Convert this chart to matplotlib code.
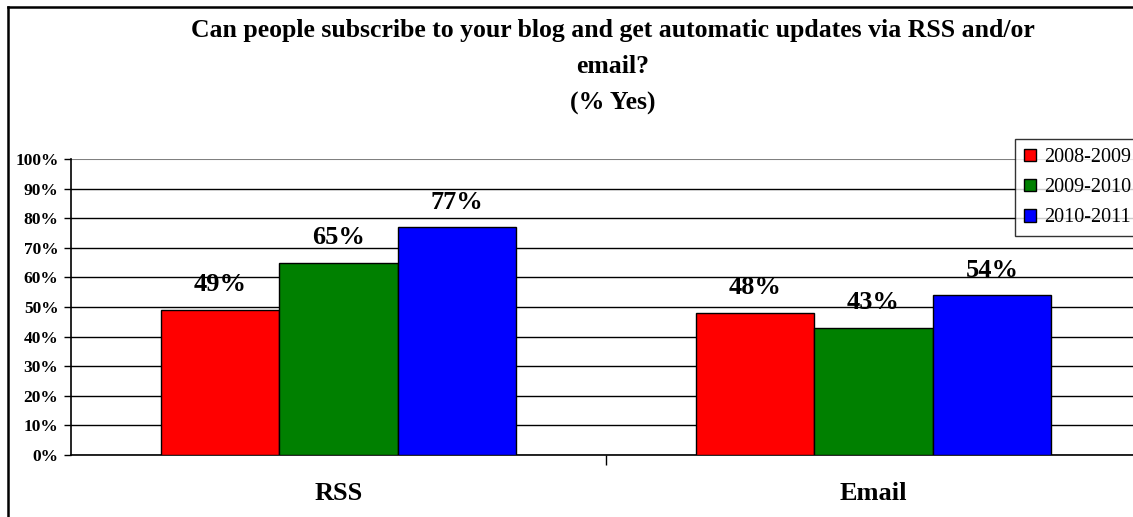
import numpy as np
import matplotlib.pyplot as plt
from matplotlib.lines import Line2D

categories = ['RSS', 'Email']
years = ['2008-2009', '2009-2010', '2010-2011']
values = {
    '2008-2009': [49, 48],
    '2009-2010': [65, 43],
    '2010-2011': [77, 54],
}
colors = ['#FF0000', '#008000', '#0000FF']
yticks = [0, 10, 20, 30, 40, 50, 60, 70, 80, 90, 100]

plt.rcParams['font.family'] = ['Liberation Serif', 'DejaVu Serif']

fig = plt.figure(figsize=(11.33, 5.17), dpi=100)
ax = fig.add_axes([71 / 1133, 62 / 517, 1070 / 1133, 296 / 517])

x = np.arange(len(categories))
width = 0.2215
for i, (year, color) in enumerate(zip(years, colors)):
    offset = (i - 1) * width
    bars = ax.bar(x + offset, values[year], width, color=color,
                  edgecolor='black', linewidth=1.0, label=year, zorder=3)
    for rect, v in zip(bars, values[year]):
        ax.annotate(f'{v}%', (rect.get_x() + rect.get_width() / 2, v),
                    xytext=(0, 18), textcoords='offset points',
                    ha='center', va='center', fontsize=19, fontweight='bold')

ax.set_xlim(-0.5, 1.5)
ax.set_ylim(0, 100)
ax.set_yticks(yticks)
ax.set_yticklabels([f'{t}%' for t in yticks], fontsize=12.5, fontweight='bold')
ax.tick_params(axis='y', length=5, width=1, pad=4, direction='out')

# category labels sit between the boundary ticks
ax.set_xticks([0.5])
ax.set_xticklabels([''])
ax.tick_params(axis='x', length=7, width=1, direction='out')
for xi, cat in zip(x, categories):
    ax.text(xi, -13, cat, ha='center', va='center', fontsize=19,
            fontweight='bold', transform=ax.transData)

for t in yticks[:-1]:
    ax.axhline(t, color='black', linewidth=1.0, zorder=1)
ax.axhline(100, color='#808080', linewidth=1.5, zorder=1)

for side in ['top', 'right']:
    ax.spines[side].set_visible(False)
ax.spines['left'].set_linewidth(1.2)
ax.spines['bottom'].set_linewidth(1.2)

fig.text(613 / 1133, 1 - 67 / 517,
         'Can people subscribe to your blog and get automatic updates via RSS and/or\nemail?\n(% Yes)',
         ha='center', va='center', fontsize=18.5, fontweight='bold', linespacing=1.75)

leg = fig.legend(loc='upper left', bbox_to_anchor=(1015 / 1133, 1 - 139 / 517),
                 fontsize=14.5, frameon=True, fancybox=False, edgecolor='black',
                 handlelength=0.6, handleheight=0.6, handletextpad=0.4,
                 labelspacing=0.55, borderpad=0.45, borderaxespad=0)
leg.get_frame().set_linewidth(1.0)

# outer chart border (top and left edges)
fig.add_artist(Line2D([8 / 1133, 8 / 1133], [0, 1 - 7 / 517], color='black', linewidth=1.8))
fig.add_artist(Line2D([8 / 1133, 1], [1 - 7 / 517, 1 - 7 / 517], color='black', linewidth=1.8))

fig.savefig('out.png', dpi=100)
